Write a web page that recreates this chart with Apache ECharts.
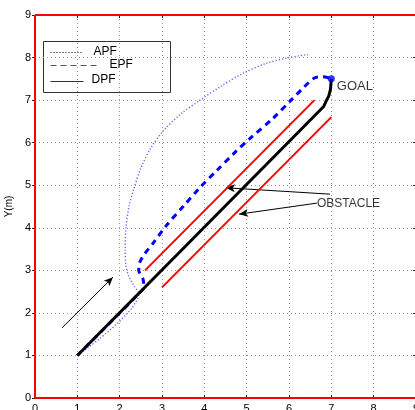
<!DOCTYPE html>
<html><head><meta charset="utf-8">
<script src="https://cdn.jsdelivr.net/npm/echarts@6/dist/echarts.min.js"></script>
<style>html,body{margin:0;padding:0;background:#fff}#c{width:415px;height:410px}</style>
</head><body><div id="c"></div>
<script>
const xTicks = [0,1,2,3,4,5,6,7,8,9];
const yTicks = [0,1,2,3,4,5,6,7,8,9];
const apf = [[1,1],[2.45,2.45],[2.35,2.62],[2.22,2.85],[2.15,3.1],[2.13,3.5],[2.15,4.0],[2.22,4.5],[2.33,4.9],[2.5,5.4],[2.75,5.9],[3.05,6.3],[3.45,6.68],[3.9,7.0],[4.4,7.33],[4.9,7.62],[5.45,7.86],[6.0,8.0],[6.45,8.07]];
const epf = [[1,1],[2.45,2.45],[2.57,2.6],[2.55,2.8],[2.45,3.0],[2.48,3.2],[2.6,3.4],[2.8,3.65],[3.1,4.05],[3.5,4.5],[3.9,4.95],[4.3,5.35],[4.7,5.75],[5.1,6.12],[5.6,6.55],[6.05,7.0],[6.35,7.3],[6.6,7.52],[6.8,7.55],[7.0,7.5]];
const dpf = [[1,1],[6.82,6.85],[6.88,6.98],[6.94,7.1],[6.98,7.25],[7.0,7.5]];
const goal = [[7.0,7.5]];
const obstacles = [
  [[2.6,3.0],[6.6,7.0]],
  [[3.0,2.6],[7.0,6.6]]
];
const boundary = [
  [[0,0],[0,9]],
  [[0,0],[9,0]],
  [[0,9],[9,9]]
];
const arrows = [
  [[0.64,1.65],[1.84,2.84]],
  [[6.97,4.79],[4.51,4.94]],
  [[6.66,4.58],[4.82,4.32]]
];
const notes = [
  {text:'GOAL', pos:[7.13,7.33], size:13},
  {text:'OBSTACLE', pos:[6.66,4.56], size:12}
];

const FONT = 'Liberation Sans, Arial, sans-serif';
const chart = echarts.init(document.getElementById('c'), null, {renderer:'canvas'});
const gridStyle = {show:true, lineStyle:{color:'#9a9a9a', type:[1,3], width:1}};
const series = [];
series.push({type:'line', data:apf, symbol:'none', clip:false, smooth:0.3, lineStyle:{color:'#6464ff', width:1.4, type:[1.2,2]}, z:3});
series.push({type:'line', data:epf, symbol:'none', clip:false, smooth:0.3, lineStyle:{color:'#0000ff', width:3, type:[6,5]}, z:4});
obstacles.forEach(o => series.push({type:'line', data:o, symbol:'none', clip:false, lineStyle:{color:'#ff0000', width:2}, z:5}));
boundary.forEach(o => series.push({type:'line', data:o, symbol:'none', clip:false, lineStyle:{color:'#ff0000', width:2}, z:5}));
series.push({type:'line', data:dpf, symbol:'none', clip:false, lineStyle:{color:'#000000', width:3}, z:6});
series.push({type:'scatter', data:goal, symbol:'circle', symbolSize:7, itemStyle:{color:'#0000ff'}, z:7});
series.push({type:'line', data:[], symbol:'none', z:8,
  markLine:{silent:true, animation:false, symbol:['none','arrow'], symbolSize:[6,9],
    label:{show:false}, lineStyle:{color:'#000', width:1, type:'solid'},
    data: arrows.map(a => [{coord:a[0]},{coord:a[1]}])}});
notes.forEach(n => series.push({type:'scatter', data:[n.pos], symbolSize:0, z:9,
  label:{show:true, position:[0,0], align:'left', verticalAlign:'middle', formatter:n.text, color:'#000', fontSize:n.size, fontFamily:FONT}}));

const option = {
  animation:false,
  grid:{left:35, top:15, width:381, height:383, containLabel:false, outerBoundsMode:'none'},
  xAxis:[
    {type:'value', min:0, max:9, interval:1, position:'bottom',
     axisLine:{show:true, onZero:false, lineStyle:{color:'#222'}},
     axisTick:{show:true, inside:true, length:3, lineStyle:{color:'#222'}},
     axisLabel:{margin:5, fontSize:11, color:'#000', fontFamily:FONT, formatter:v=>xTicks.includes(v)?String(v):''},
     splitLine:gridStyle},
    {type:'value', min:0, max:9, interval:1, position:'top',
     axisLine:{show:true, onZero:false, lineStyle:{color:'#444', width:1}},
     axisTick:{show:true, inside:true, length:3, lineStyle:{color:'#222'}},
     axisLabel:{show:false}, splitLine:{show:false}}
  ],
  yAxis:[
    {type:'value', min:0, max:9, interval:1, position:'left',
     name:'Y(m)', nameLocation:'middle', nameGap:20, nameTextStyle:{fontSize:10, color:'#000', fontFamily:FONT},
     axisLine:{show:true, onZero:false, lineStyle:{color:'#222'}},
     axisTick:{show:true, inside:false, length:3, lineStyle:{color:'#222'}},
     axisLabel:{margin:4, fontSize:11, color:'#000', fontFamily:FONT, formatter:v=>yTicks.includes(v)?String(v):''},
     splitLine:gridStyle},
    {type:'value', min:0, max:9, interval:1, position:'right',
     axisLine:{show:true, onZero:false, lineStyle:{color:'#222'}},
     axisTick:{show:true, inside:true, length:3, lineStyle:{color:'#222'}},
     axisLabel:{show:false}, splitLine:{show:false}}
  ],
  series: series,
  graphic:[
    {type:'group', left:43, top:41, z:100, children:[
      {type:'rect', shape:{x:0,y:0,width:127,height:51}, style:{fill:'#fff', stroke:'#333', lineWidth:1}},
      {type:'line', shape:{x1:7,y1:11,x2:39,y2:11}, style:{stroke:'#000', lineWidth:1, lineDash:[1,2]}},
      {type:'text', x:50, y:10, style:{text:'APF', fontSize:12, fontFamily:FONT, fill:'#000', verticalAlign:'middle'}},
      {type:'line', shape:{x1:7,y1:24,x2:55,y2:24}, style:{stroke:'#555', lineWidth:1, lineDash:[6,4]}},
      {type:'text', x:66, y:23, style:{text:'EPF', fontSize:12, fontFamily:FONT, fill:'#000', verticalAlign:'middle'}},
      {type:'line', shape:{x1:7,y1:40,x2:40,y2:40}, style:{stroke:'#333', lineWidth:1}},
      {type:'text', x:48, y:38, style:{text:'DPF', fontSize:12, fontFamily:FONT, fill:'#000', verticalAlign:'middle'}}
    ]}
  ]
};
chart.setOption(option);
</script></body></html>
